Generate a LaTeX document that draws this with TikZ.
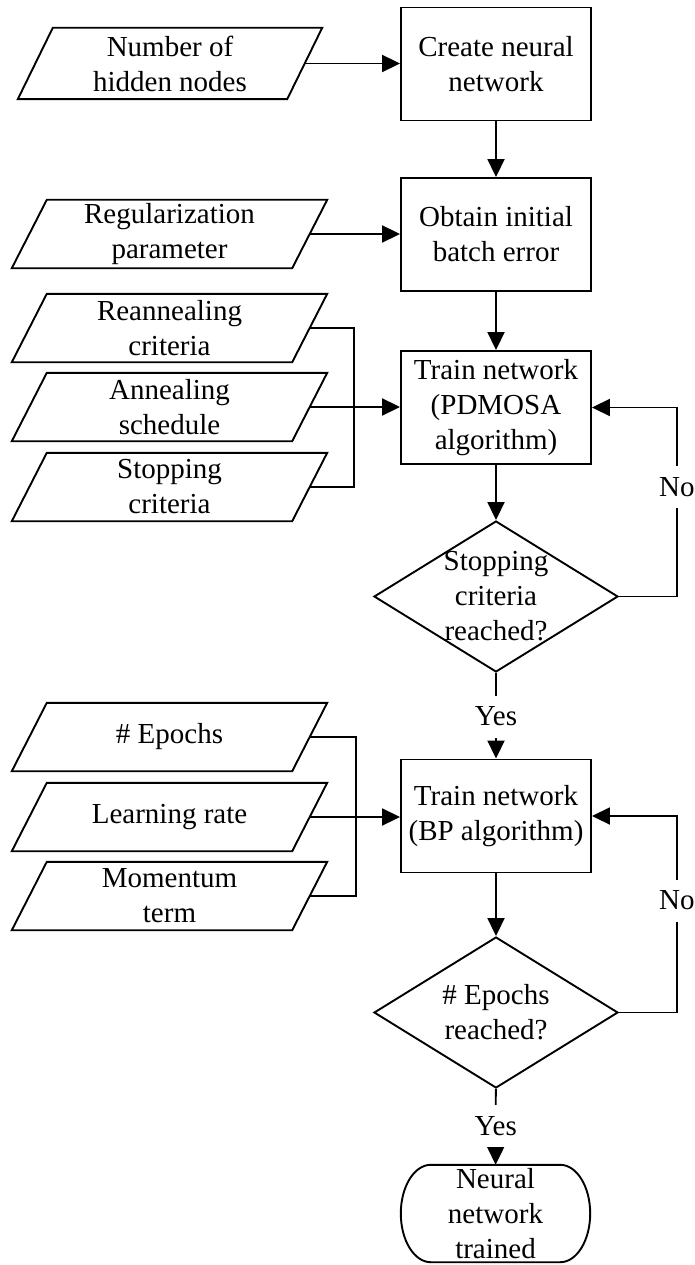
\documentclass[tikz,border=0pt]{standalone}
\usepackage{fontspec}
\setmainfont{Liberation Serif}
\usetikzlibrary{arrows.meta,shapes.geometric}

% outline of a data (input) box: a parallelogram leaning right
\newcommand\ioshape[2][17.5pt]{%
  \draw[conn] ([xshift=#1]#2.north west) -- ([xshift=#1]#2.north east)
    -- ([xshift=-#1]#2.south east) -- ([xshift=-#1]#2.south west) -- cycle;}

\begin{document}
\begin{tikzpicture}[x=1pt,y=-1pt,
  every node/.style={font=\fontsize{29pt}{35pt}\selectfont},
  conn/.style={line width=1.9pt},
  flow/.style={conn, -{Triangle[length=18pt,width=17pt]}},
  process/.style={draw, line width=1.9pt, rectangle, minimum width=190pt,
    minimum height=113pt, inner sep=0pt, align=center},
  io/.style={rectangle, minimum width=280pt, minimum height=68pt,
    inner sep=0pt, align=center},
  decision/.style={draw, line width=1.9pt, diamond, minimum width=244pt,
    minimum height=151pt, inner sep=0pt},
  txt/.style={align=center, inner sep=0pt},
  lbl/.style={fill=white, inner sep=0pt, minimum height=42pt},
  terminal/.style={rectangle, minimum width=189pt, minimum height=97pt,
    inner sep=0pt, align=center}
]
\useasboundingbox (0,0) rectangle (695,1265);

% main column
\node[process] (b1) at (496,64) {Create neural\\network};
\node[process] (b2) at (496,234.5) {Obtain initial\\batch error};
\node[process] (b3) at (496,407.5) {Train network\\(PDMOSA\\algorithm)};
\node[decision] (d1) at (496,596.5) {};
\node[txt] (d1t) at (d1.center) {Stopping\\criteria\\reached?};
\node[process] (b4) at (496,816) {Train network\\(BP algorithm)};
\node[decision] (d2) at (496,1012.5) {};
\node[txt] (d2t) at (d2.center) {\# Epochs\\reached?};
\node[terminal] (t) at (495.5,1213.5) {Neural\\network\\trained};

% terminal outline with half-elliptic ends
\draw[conn] ([xshift=30pt]t.north west) -- ([xshift=-30pt]t.north east)
  .. controls +(16.6,0) and +(0,-26.8) .. (t.east)
  .. controls +(0,26.8) and +(16.6,0) .. ([xshift=-30pt]t.south east)
  -- ([xshift=30pt]t.south west)
  .. controls +(-16.6,0) and +(0,26.8) .. (t.west)
  .. controls +(0,-26.8) and +(-16.6,0) .. ([xshift=30pt]t.north west) -- cycle;

% inputs
\node[io, minimum width=269pt, minimum height=71pt] (p1) at (170,63.5) {Number of\\hidden nodes};
\node[io] (p2) at (169.5,234) {Regularization\\parameter};
\node[io] (p3) at (169.5,328) {Reannealing\\criteria};
\node[io] (p4) at (169.5,407) {Annealing\\schedule};
\node[io] (p5) at (169.5,487) {Stopping\\criteria};
\node[io] (p6) at (169.5,737) {\# Epochs};
\node[io] (p7) at (169.5,817) {Learning rate};
\node[io] (p8) at (169.5,896) {Momentum\\term};
\foreach \p in {p1,p2,p3,p4,p5,p6,p7,p8} {\ioshape{\p}}

% connectors
\draw[flow] (p1.east) -- (p1.east -| b1.west);
\draw[flow] (b1) -- (b2);
\draw[flow] (p2.east) -- (p2.east -| b2.west);
\draw[flow] (b2) -- (b3);
\draw[conn] (p3.east) -- ++(44,0) |- (p5.east);
\draw[flow] (p4.east) -- (p4.east -| b3.west);
\draw[flow] (b3) -- (d1);
\draw[flow] (d1.east) -- ++(58,0) |- (b3.east) node[lbl, pos=0.29] (no1) {No};
\draw[flow] (d1) -- (b4) node[lbl, pos=0.51] (yes1) {Yes};
\draw[conn] (p6.east) -- ++(46,0) |- (p8.east);
\draw[flow] (p7.east) -- (p7.east -| b4.west);
\draw[flow] (b4) -- (d2);
\draw[flow] (d2.east) -- ++(58,0) |- (b4.east) node[lbl, pos=0.285] (no2) {No};
\draw[flow] (d2) -- (t) node[lbl, pos=0.49] (yes2) {Yes};
\end{tikzpicture}
\end{document}
